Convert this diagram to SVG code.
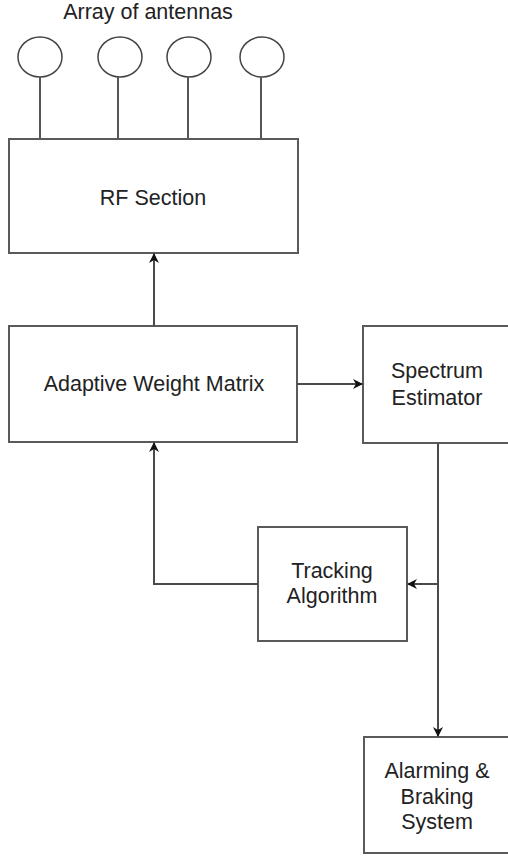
<svg xmlns="http://www.w3.org/2000/svg" width="508" height="859" viewBox="0 0 508 859">
<style>
  .box { fill: #ffffff; stroke: #5a5a5a; stroke-width: 2; }
  .ant { fill: #ffffff; stroke: #444444; stroke-width: 1.5; }
  .stem { stroke: #555555; stroke-width: 2; fill: none; }
  .wire { stroke: #4a4a4a; stroke-width: 2; fill: none; }
  .lbl { font-family: "Liberation Sans", Arial, sans-serif; font-size: 21.5px; fill: #222222; text-anchor: middle; }
</style>
<defs>
  <marker id="arr" viewBox="0 0 10 10" refX="9" refY="5" markerWidth="5" markerHeight="5" orient="auto" markerUnits="strokeWidth">
    <path d="M0,0 L10,5 L0,10 L3,5 Z" fill="#111111"/>
  </marker>
</defs>
<rect width="508" height="859" fill="#ffffff"/>

<g id="antennas">
  <text class="lbl" x="148" y="19">Array of antennas</text>
  <ellipse class="ant" cx="40" cy="57" rx="22" ry="20"/>
  <ellipse class="ant" cx="120" cy="57" rx="22" ry="20"/>
  <ellipse class="ant" cx="189" cy="57" rx="22" ry="20"/>
  <ellipse class="ant" cx="262" cy="57" rx="22" ry="20"/>
  <line class="stem" x1="40" y1="77" x2="40" y2="139"/>
  <line class="stem" x1="118" y1="77" x2="118" y2="139"/>
  <line class="stem" x1="188" y1="77" x2="188" y2="139"/>
  <line class="stem" x1="261" y1="77" x2="261" y2="139"/>
</g>

<g id="rf">
  <rect class="box" x="9" y="139" width="289" height="114"/>
  <text class="lbl" x="153" y="205">RF Section</text>
</g>

<g id="awm">
  <rect class="box" x="9" y="326" width="288" height="116"/>
  <text class="lbl" x="154" y="391">Adaptive Weight Matrix</text>
</g>

<g id="spectrum">
  <rect class="box" x="363" y="326" width="150" height="117"/>
  <text class="lbl" x="437" y="378">Spectrum</text>
  <text class="lbl" x="437" y="405">Estimator</text>
</g>

<g id="tracking">
  <rect class="box" x="258" y="527" width="149" height="114"/>
  <text class="lbl" x="332" y="578">Tracking</text>
  <text class="lbl" x="332" y="603">Algorithm</text>
</g>

<g id="alarm">
  <rect class="box" x="364" y="737" width="150" height="116"/>
  <text class="lbl" x="437" y="778">Alarming &amp;</text>
  <text class="lbl" x="437" y="804">Braking</text>
  <text class="lbl" x="437" y="829">System</text>
</g>

<g id="connectors">
  <line class="wire" x1="154" y1="326" x2="154" y2="254" marker-end="url(#arr)"/>
  <line class="wire" x1="297" y1="384" x2="362" y2="384" marker-end="url(#arr)"/>
  <polyline class="wire" points="258,584 154,584 154,443" marker-end="url(#arr)"/>
  <line class="wire" x1="438" y1="443" x2="438" y2="736" marker-end="url(#arr)"/>
  <line class="wire" x1="438" y1="584" x2="408" y2="584" marker-end="url(#arr)"/>
</g>
</svg>
